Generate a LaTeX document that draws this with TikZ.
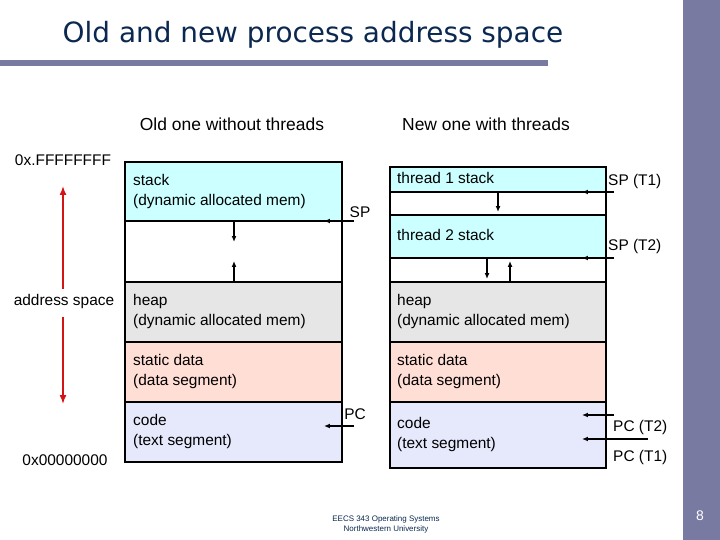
\documentclass[tikz,border=0pt]{standalone}
\usepackage{fontspec}
\setmainfont{Liberation Sans}
\newfontfamily\titlefont{DejaVu Sans}
\usetikzlibrary{arrows.meta}
\definecolor{navy}{RGB}{10,40,80}
\definecolor{barcol}{RGB}{120,122,162}
\definecolor{stackcol}{RGB}{204,255,255}
\definecolor{heapcol}{RGB}{230,230,230}
\definecolor{datacol}{RGB}{255,222,214}
\definecolor{codecol}{RGB}{230,232,252}
\definecolor{redarr}{RGB}{210,20,20}
\tikzset{
  seg/.style={draw=black, line width=1.3pt},
  lbl/.style={inner sep=0pt, anchor=north west, align=left, font=\fontsize{15.5}{20}\selectfont},
  side/.style={inner sep=0pt, font=\fontsize{15.5}{17}\selectfont},
  ptr/.style={-{Latex[length=6pt,width=5pt]}, line width=1.3pt},
}
\begin{document}
\begin{tikzpicture}[x=1bp, y=-1bp]
    \useasboundingbox (0,0) rectangle (720,540);
    % slide frame
    \fill[barcol] (683,0) rectangle (720,540);
    \fill[barcol] (0,60) rectangle (548,66);
    \node (title) [inner sep=0pt, text=navy, font=\titlefont\fontsize{28}{31}\selectfont] at (313,35) {Old and new process address space};
    \node (page) [text=white, font=\fontsize{14}{16}\selectfont] at (700,516) {8};
    \node (foot) [align=center, text=navy, font=\fontsize{8}{10}\selectfont] at (386,524) {EECS 343 Operating Systems\\Northwestern University};

    \node (oldhead) [side, font=\fontsize{17.5}{20}\selectfont] at (232,124) {Old one without threads};
    \node (newhead) [side, font=\fontsize{17.5}{20}\selectfont] at (486,124) {New one with threads};

    % old address space
    \fill[stackcol] (125,162) rectangle (342,221);
    \fill[heapcol] (125,282) rectangle (342,342);
    \fill[datacol] (125,342) rectangle (342,402);
    \fill[codecol] (125,402) rectangle (342,462);
    \draw[seg] (125,162) rectangle (342,462);
    \foreach \y in {221,282,342,402} \draw[seg] (125,\y) -- (342,\y);
    \node (ostack) [lbl] at (133,174) {stack\\(dynamic allocated mem)};
    \node (oheap) [lbl] at (133,294) {heap\\(dynamic allocated mem)};
    \node (odata) [lbl] at (133,354) {static data\\(data segment)};
    \node (ocode) [lbl] at (133,414) {code\\(text segment)};
    \coordinate (odown) at (234,221);
    \coordinate (odownend) at (234,242);
    \coordinate (oup) at (234,282);
    \coordinate (oupend) at (234,261);
    \draw[ptr] (odown) -- (odownend);
    \draw[ptr] (oup) -- (oupend);
    \node (sp) [side] at (360,212) {SP};
    \coordinate (spfrom) at (354,221);
    \coordinate (spto) at (324,221);
    \draw[ptr] (spfrom) -- (spto);
    \node (pc) [side] at (355,414) {PC};
    \coordinate (pcfrom) at (354,426);
    \coordinate (pcto) at (324,426);
    \draw[ptr] (pcfrom) -- (pcto);

    % new address space
    \fill[stackcol] (390,167) rectangle (606,192);
    \fill[stackcol] (390,215) rectangle (606,258);
    \fill[heapcol] (390,282) rectangle (606,342);
    \fill[datacol] (390,342) rectangle (606,402);
    \fill[codecol] (390,402) rectangle (606,468);
    \draw[seg] (390,167) rectangle (606,468);
    \foreach \y in {192,215,258,282,342,402} \draw[seg] (390,\y) -- (606,\y);
    \node (t1) [lbl] at (397,172) {thread 1 stack};
    \node (t2) [lbl] at (397,229) {thread 2 stack};
    \node (nheap) [lbl] at (397,294) {heap\\(dynamic allocated mem)};
    \node (ndata) [lbl] at (397,354) {static data\\(data segment)};
    \node (ncode) [lbl] at (397,417) {code\\(text segment)};
    \coordinate (t1down) at (498,192);
    \coordinate (t1downend) at (498,212);
    \coordinate (t2down) at (487,258);
    \coordinate (t2downend) at (487,279);
    \coordinate (nup) at (510,282);
    \coordinate (nupend) at (510,261);
    \draw[ptr] (t1down) -- (t1downend);
    \draw[ptr] (t2down) -- (t2downend);
    \draw[ptr] (nup) -- (nupend);
    \node (sp1) [side, anchor=west] at (608,182) {SP (T1)};
    \node (sp2) [side, anchor=west] at (608,247) {SP (T2)};
    \node (pc2) [side, anchor=west] at (613,428) {PC (T2)};
    \node (pc1) [side, anchor=west] at (613,458) {PC (T1)};
    \coordinate (sp1from) at (614,192);
    \coordinate (sp1to) at (582,192);
    \coordinate (sp2from) at (614,258);
    \coordinate (sp2to) at (582,258);
    \coordinate (pc2from) at (614,415);
    \coordinate (pc2to) at (582,415);
    \coordinate (pc1from) at (648,439);
    \coordinate (pc1to) at (582,439);
    \draw[ptr] (sp1from) -- (sp1to);
    \draw[ptr] (sp2from) -- (sp2to);
    \draw[ptr] (pc2from) -- (pc2to);
    \draw[ptr] (pc1from) -- (pc1to);

    % address range
    \node (hi) [side] at (63,160) {0x.FFFFFFFF};
    \node (mid) [side] at (64,302) {address space};
    \node (lo) [side] at (65,460) {0x00000000};
    \draw[-{Latex[length=9pt,width=7pt]}, redarr, line width=1.5pt] (mid.north -| hi) ++(0,-6) -- (63,186);
    \draw[-{Latex[length=9pt,width=7pt]}, redarr, line width=1.5pt] (mid.south -| hi) ++(0,8) -- (63,404);
\end{tikzpicture}
\end{document}
